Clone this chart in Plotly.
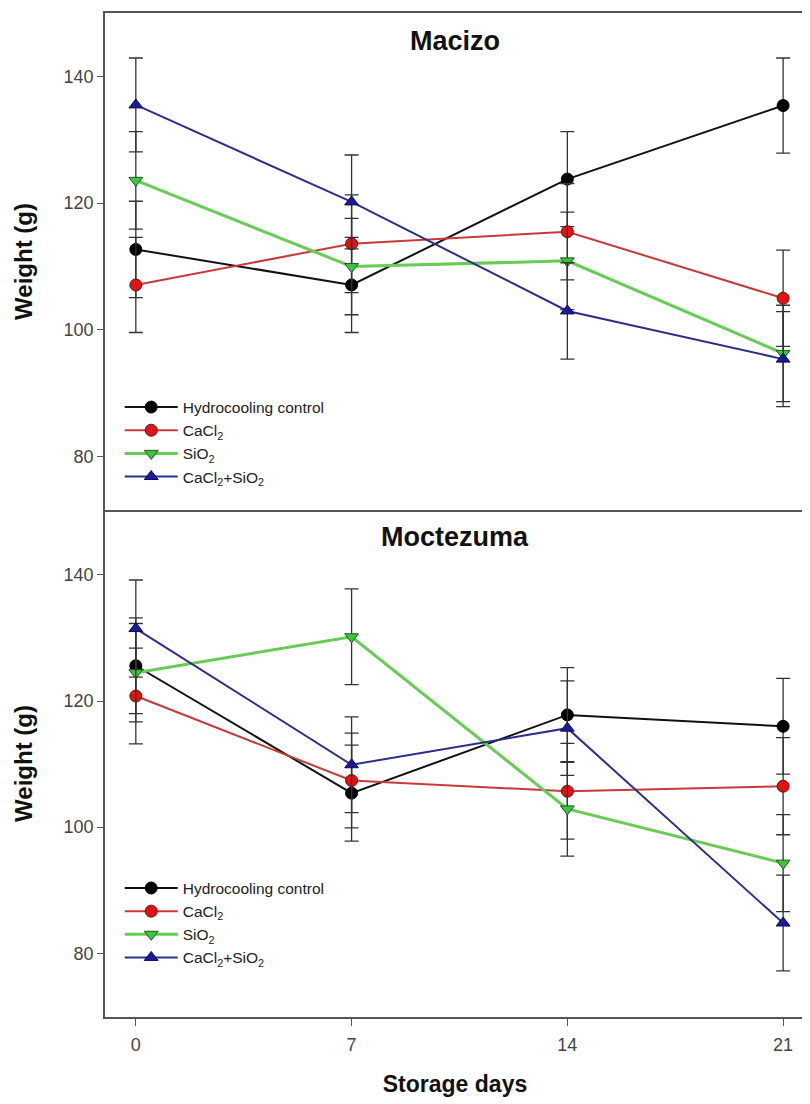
import plotly.graph_objects as go
from plotly.subplots import make_subplots

days = [0, 7, 14, 21]
series_names = ["Hydrocooling control", "CaCl<sub>2</sub>", "SiO<sub>2</sub>", "CaCl<sub>2</sub>+SiO<sub>2</sub>"]

# Macizo (top panel)
macizo_control = [112.7, 107.1, 123.8, 135.4]
macizo_cacl2 = [107.1, 113.6, 115.5, 105.0]
macizo_sio2 = [123.6, 110.0, 110.9, 96.3]
macizo_mix = [135.5, 120.2, 103.0, 95.4]
macizo_control_err = [7.6, 7.5, 7.5, 7.5]
macizo_cacl2_err = [7.5, 7.7, 7.6, 7.6]
macizo_sio2_err = [7.7, 7.6, 7.7, 7.6]
macizo_mix_err = [7.4, 7.4, 7.6, 7.5]

# Moctezuma (bottom panel)
moct_control = [125.6, 105.4, 117.8, 116.0]
moct_cacl2 = [120.8, 107.4, 105.7, 106.5]
moct_sio2 = [124.5, 130.2, 102.9, 94.3]
moct_mix = [131.5, 109.9, 115.7, 84.8]
moct_control_err = [7.6, 7.6, 7.5, 7.6]
moct_cacl2_err = [7.6, 7.5, 7.6, 7.7]
moct_sio2_err = [7.8, 7.6, 7.5, 7.7]
moct_mix_err = [7.7, 7.6, 7.5, 7.6]

y_ticks = [80, 100, 120, 140]
x_ticks = [0, 7, 14, 21]

FONT = "Liberation Sans, Arial, sans-serif"

styles = [
    dict(line=dict(color="#111111", width=2),
         marker=dict(symbol="circle", size=12, color="#000000", line=dict(color="#000000", width=1))),
    dict(line=dict(color="#c83a3a", width=2),
         marker=dict(symbol="circle", size=12, color="#e01414", line=dict(color="#6a1010", width=1))),
    dict(line=dict(color="#66cc55", width=3),
         marker=dict(symbol="triangle-down", size=12, color="#3fc43f", line=dict(color="#1d5a1d", width=1))),
    dict(line=dict(color="#2d2d8f", width=2),
         marker=dict(symbol="triangle-up", size=12, color="#1a1a9a", line=dict(color="#0d0d55", width=1))),
]

fig = make_subplots(rows=2, cols=1, shared_xaxes=False, vertical_spacing=0)

panels = [
    (1, "legend", [macizo_control, macizo_cacl2, macizo_sio2, macizo_mix],
     [macizo_control_err, macizo_cacl2_err, macizo_sio2_err, macizo_mix_err]),
    (2, "legend2", [moct_control, moct_cacl2, moct_sio2, moct_mix],
     [moct_control_err, moct_cacl2_err, moct_sio2_err, moct_mix_err]),
]

for row, leg, vals, errs in panels:
    for name, v, e, st in zip(series_names, vals, errs, styles):
        fig.add_trace(go.Scatter(
            x=days, y=v, name=name, mode="lines+markers",
            line=st["line"], marker=st["marker"],
            error_y=dict(type="data", array=e, visible=True, color="#333333", thickness=1.3, width=7),
            legend=leg, showlegend=True,
        ), row=row, col=1)

axis_font = dict(family=FONT, size=18, color="#444444")
frame = dict(showline=True, linecolor="#555555", linewidth=1.5,
             showgrid=False, zeroline=False)

fig.update_xaxes(range=[-1.0, 21.71], tickvals=x_ticks, **frame)
fig.update_xaxes(showticklabels=False, ticks="", mirror=True, row=1, col=1)
fig.update_xaxes(mirror=False, ticks="outside", ticklen=7, tickcolor="#555555", tickfont=axis_font,
                 ticklabelstandoff=4,
                 title=dict(text="<b>Storage days</b>", font=dict(family=FONT, size=23, color="#111111"), standoff=22),
                 row=2, col=1)
fig.update_yaxes(tickvals=y_ticks, ticks="outside", ticklen=6, tickcolor="#555555", tickfont=axis_font,
                 mirror=True,
                 title=dict(text="<b>Weight (g)</b>", font=dict(family=FONT, size=24, color="#111111"), standoff=24),
                 **frame)
fig.update_yaxes(range=[71.6, 150.0], domain=[0.505, 1.0], row=1, col=1)
fig.update_yaxes(range=[69.9, 150.3], domain=[0.0, 0.505], row=2, col=1)

legend_style = dict(
    font=dict(family=FONT, size=15.5, color="#222222"),
    bgcolor="rgba(0,0,0,0)", borderwidth=0, xanchor="left", yanchor="top",
    tracegroupgap=0, itemwidth=53,
)
fig.update_layout(
    legend=dict(x=0.021, y=0.624, **legend_style),
    legend2=dict(x=0.021, y=0.145, **legend_style),
)

fig.add_annotation(text="<b>Macizo</b>", x=0.5, y=0.972, xref="paper", yref="paper",
                   xanchor="center", yanchor="middle",
                   showarrow=False, font=dict(family=FONT, size=27, color="#111111"))
fig.add_annotation(text="<b>Moctezuma</b>", x=0.5, y=0.478, xref="paper", yref="paper",
                   xanchor="center", yanchor="middle",
                   showarrow=False, font=dict(family=FONT, size=27, color="#111111"))

# page body has an 8px margin, so the figure is sized/offset to compensate
fig.update_layout(
    width=802, height=1096,
    margin=dict(l=97, r=3, t=5, b=87),
    paper_bgcolor="white", plot_bgcolor="white",
)

fig.write_html("out.html")
